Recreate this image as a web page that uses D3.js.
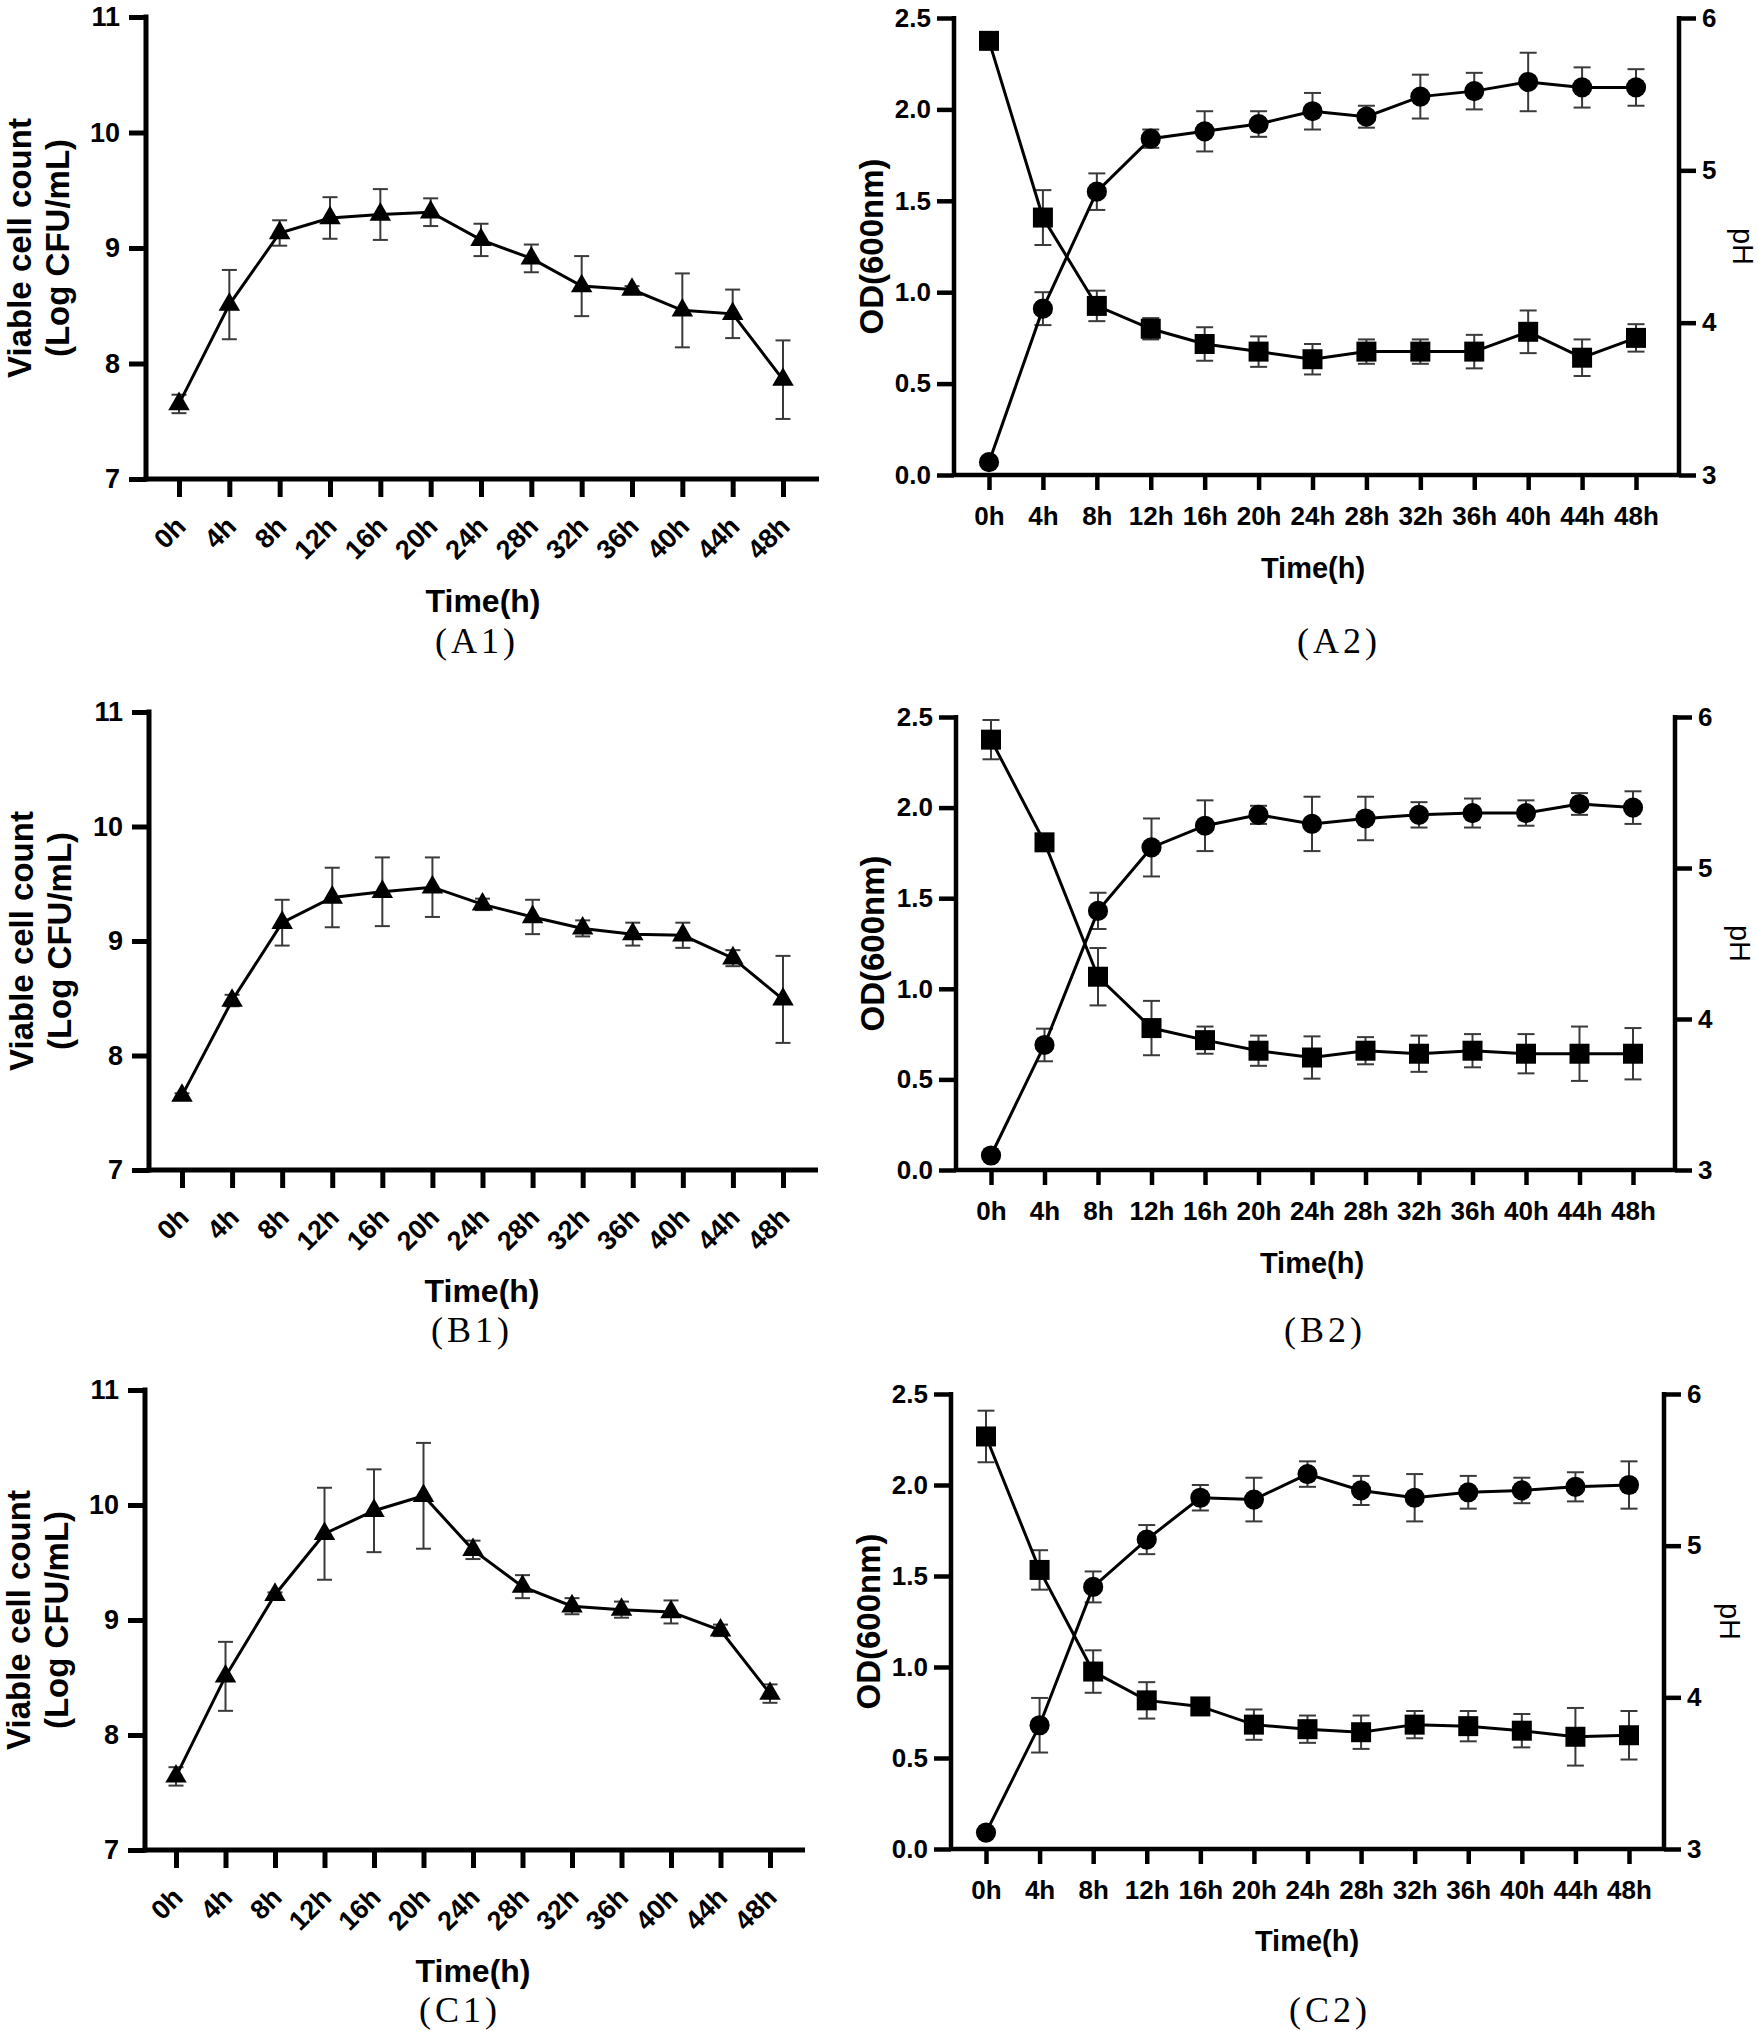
<!DOCTYPE html>
<html>
<head>
<meta charset="utf-8">
<script src="https://cdn.jsdelivr.net/npm/d3@7"></script>
<style>
  html, body { margin: 0; padding: 0; background: #fff; }
  svg { display: block; }
  text { font-family: "Liberation Sans", Arial, sans-serif; fill: #000; }
</style>
</head>
<body>
<svg id="chart" width="1758" height="2031"></svg>
<script>
// ---------------- DATA ----------------
const timeLabels = ["0h","4h","8h","12h","16h","20h","24h","28h","32h","36h","40h","44h","48h"];
const countTicks = [7, 8, 9, 10, 11];
const odTicks = [0, 0.5, 1.0, 1.5, 2.0, 2.5];
const phTicks = [3, 4, 5, 6];

// Panel A1 – viable cell count (Log CFU/mL)
const countA1    = [7.65, 8.51, 9.13, 9.26, 9.29, 9.31, 9.07, 8.91, 8.67, 8.64, 8.46, 8.43, 7.86];
const countA1Err = [0.08, 0.30, 0.11, 0.18, 0.22, 0.12, 0.14, 0.12, 0.26, 0.03, 0.32, 0.21, 0.34];
// Panel A2 – OD600 (circles) and pH (squares)
const odA2    = [0.07, 0.91, 1.55, 1.84, 1.88, 1.92, 1.99, 1.96, 2.07, 2.10, 2.15, 2.12, 2.12];
const odA2Err = [0.02, 0.09, 0.10, 0.05, 0.11, 0.07, 0.10, 0.06, 0.12, 0.10, 0.16, 0.11, 0.10];
const phA2    = [5.85, 4.69, 4.11, 3.96, 3.86, 3.81, 3.76, 3.81, 3.81, 3.81, 3.94, 3.77, 3.90];
const phA2Err = [0.03, 0.18, 0.10, 0.07, 0.11, 0.10, 0.10, 0.08, 0.08, 0.11, 0.14, 0.12, 0.09];

// Panel B1
const countB1    = [7.65, 8.48, 9.16, 9.38, 9.43, 9.47, 9.32, 9.21, 9.11, 9.06, 9.05, 8.85, 8.49];
const countB1Err = [0.02, 0.05, 0.20, 0.26, 0.30, 0.26, 0.05, 0.15, 0.07, 0.10, 0.11, 0.07, 0.38];
// Panel B2
const odB2    = [0.08, 0.69, 1.43, 1.78, 1.90, 1.96, 1.91, 1.94, 1.96, 1.97, 1.97, 2.02, 2.00];
const odB2Err = [0.02, 0.09, 0.10, 0.16, 0.14, 0.05, 0.15, 0.12, 0.07, 0.08, 0.07, 0.06, 0.09];
const phB2    = [5.85, 5.17, 4.28, 3.94, 3.86, 3.79, 3.745, 3.79, 3.77, 3.79, 3.77, 3.77, 3.77];
const phB2Err = [0.13, 0.05, 0.19, 0.18, 0.09, 0.10, 0.14, 0.09, 0.12, 0.11, 0.13, 0.18, 0.17];

// Panel C1
const countC1    = [7.64, 8.51, 9.22, 9.75, 9.95, 10.08, 9.61, 9.29, 9.12, 9.09, 9.07, 8.91, 8.36];
const countC1Err = [0.08, 0.30, 0.02, 0.40, 0.36, 0.46, 0.08, 0.10, 0.07, 0.07, 0.10, 0.05, 0.08];
// Panel C2
const odC2    = [0.09, 0.68, 1.44, 1.70, 1.93, 1.92, 2.06, 1.97, 1.93, 1.96, 1.97, 1.99, 2.00];
const odC2Err = [0.02, 0.15, 0.085, 0.08, 0.07, 0.12, 0.07, 0.08, 0.13, 0.09, 0.07, 0.08, 0.13];
const phC2    = [5.72, 4.84, 4.17, 3.98, 3.94, 3.82, 3.79, 3.77, 3.82, 3.81, 3.78, 3.74, 3.75];
const phC2Err = [0.17, 0.13, 0.14, 0.12, 0.02, 0.10, 0.09, 0.11, 0.09, 0.10, 0.11, 0.19, 0.16];

const panelNames = ["(A1)", "(A2)", "(B1)", "(B2)", "(C1)", "(C2)"];

// ---------------- LAYOUT ----------------
const svg = d3.select("#chart");
const ERR_COLOR = "#3a3a3a";
const SANS = "Liberation Sans, Arial, sans-serif";
const SERIF = "'Liberation Serif', 'DejaVu Serif', serif";

function errorBars(g, x, y, vals, errs, capW) {
  const eb = g.append("g").attr("stroke", ERR_COLOR).attr("stroke-width", 2).attr("fill", "none");
  timeLabels.forEach((t, i) => {
    const cx = x(t), y1 = y(vals[i] - errs[i]), y2 = y(vals[i] + errs[i]);
    eb.append("line").attr("x1", cx).attr("x2", cx).attr("y1", y1).attr("y2", y2);
    eb.append("line").attr("x1", cx - capW / 2).attr("x2", cx + capW / 2).attr("y1", y1).attr("y2", y1);
    eb.append("line").attr("x1", cx - capW / 2).attr("x2", cx + capW / 2).attr("y1", y2).attr("y2", y2);
  });
}

function seriesLine(g, x, y, vals) {
  g.append("path")
    .datum(vals)
    .attr("fill", "none").attr("stroke", "#000").attr("stroke-width", 3)
    .attr("d", d3.line().x((d, i) => x(timeLabels[i])).y(d => y(d)));
}

function markers(g, x, y, vals, type, size) {
  g.append("g").selectAll("path").data(vals).join("path")
    .attr("transform", (d, i) => `translate(${x(timeLabels[i])},${y(d)})`)
    .attr("d", d3.symbol().type(type).size(size))
    .attr("fill", "#000");
}

function panelName(g, x, y, name) {
  g.append("text").attr("x", x).attr("y", y).attr("dominant-baseline", "central")
    .attr("text-anchor", "middle").attr("font-size", 36).attr("letter-spacing", 4)
    .style("font-family", SERIF).attr("fill", "#111").text(name);
}

function drawCountPanel(c, vals, errs, name) {
  const g = svg.append("g");
  const x = d3.scalePoint().domain(timeLabels).range([c.x0, c.x1]);
  const y = d3.scaleLinear().domain([7, 11]).range([c.yBot, c.yTop]);

  // y axis
  const ya = g.append("g").attr("transform", `translate(${c.ax},0)`)
    .call(d3.axisLeft(y).tickValues(countTicks).tickSize(17).tickSizeOuter(0).tickPadding(9).tickFormat(d3.format("d")));
  ya.select(".domain").remove();
  ya.selectAll(".tick line").attr("stroke", "#000").attr("stroke-width", 5);
  ya.selectAll(".tick text").attr("font-size", 27).attr("font-weight", "bold").attr("font-family", SANS);

  // x axis ticks
  const xa = g.append("g").attr("transform", `translate(0,${c.yBot})`)
    .call(d3.axisBottom(x).tickSize(18).tickSizeOuter(0));
  xa.select(".domain").remove();
  xa.selectAll(".tick line").attr("stroke", "#000").attr("stroke-width", 5);
  xa.selectAll(".tick text")
    .attr("font-size", 27).attr("font-weight", "bold").attr("font-family", SANS)
    .attr("text-anchor", "end").attr("x", null).attr("y", null).attr("dy", null)
    .attr("transform", "translate(8,49) rotate(-45)");

  // axis lines
  g.append("line").attr("x1", c.ax).attr("x2", c.ax).attr("y1", c.yTop - 2.5).attr("y2", c.yBot + 2.5)
    .attr("stroke", "#000").attr("stroke-width", 5);
  g.append("line").attr("x1", c.ax - 2.5).attr("x2", c.xEnd).attr("y1", c.yBot).attr("y2", c.yBot)
    .attr("stroke", "#000").attr("stroke-width", 5);

  errorBars(g, x, y, vals, errs, 15);
  seriesLine(g, x, y, vals);
  markers(g, x, y, vals, d3.symbolTriangle, 200);

  // titles
  const yMid = (c.yTop + c.yBot) / 2;
  g.append("text").attr("transform", `translate(${c.t1x},${yMid}) rotate(-90)`)
    .attr("text-anchor", "middle").attr("font-size", 33).attr("font-weight", "bold").text("Viable cell count");
  g.append("text").attr("transform", `translate(${c.t2x},${yMid}) rotate(-90)`)
    .attr("text-anchor", "middle").attr("font-size", 33).attr("font-weight", "bold").text("(Log CFU/mL)");
  g.append("text").attr("x", c.timeX).attr("y", c.timeY).attr("dominant-baseline", "central")
    .attr("text-anchor", "middle").attr("font-size", 32).attr("font-weight", "bold").text("Time(h)");
  panelName(g, c.nameX, c.nameY, name);
}

function drawODPanel(c, od, odErr, ph, phErr, name) {
  const g = svg.append("g");
  const x = d3.scalePoint().domain(timeLabels).range([c.x0, c.x1]);
  const yOD = d3.scaleLinear().domain([0, 2.5]).range([c.yBot, c.yTop]);
  const yPH = d3.scaleLinear().domain([3, 6]).range([c.yBot, c.yTop]);

  const la = g.append("g").attr("transform", `translate(${c.axL},0)`)
    .call(d3.axisLeft(yOD).tickValues(odTicks).tickSize(17).tickSizeOuter(0).tickPadding(6).tickFormat(d3.format(".1f")));
  la.select(".domain").remove();
  la.selectAll(".tick line").attr("stroke", "#000").attr("stroke-width", 4.5);
  la.selectAll(".tick text").attr("font-size", 26).attr("font-weight", "bold").attr("font-family", SANS);

  const ra = g.append("g").attr("transform", `translate(${c.axR},0)`)
    .call(d3.axisRight(yPH).tickValues(phTicks).tickSize(17).tickSizeOuter(0).tickPadding(6).tickFormat(d3.format("d")));
  ra.select(".domain").remove();
  ra.selectAll(".tick line").attr("stroke", "#000").attr("stroke-width", 4.5);
  ra.selectAll(".tick text").attr("font-size", 26).attr("font-weight", "bold").attr("font-family", SANS);

  const xa = g.append("g").attr("transform", `translate(0,${c.yBot})`)
    .call(d3.axisBottom(x).tickSize(15).tickSizeOuter(0).tickPadding(0));
  xa.select(".domain").remove();
  xa.selectAll(".tick line").attr("stroke", "#000").attr("stroke-width", 4.5);
  xa.selectAll(".tick text").attr("font-size", 26).attr("font-weight", "bold").attr("font-family", SANS)
    .attr("y", 50).attr("dy", null);

  g.append("line").attr("x1", c.axL).attr("x2", c.axL).attr("y1", c.yTop - 2).attr("y2", c.yBot + 2)
    .attr("stroke", "#000").attr("stroke-width", 4.5);
  g.append("line").attr("x1", c.axR).attr("x2", c.axR).attr("y1", c.yTop - 2).attr("y2", c.yBot + 2)
    .attr("stroke", "#000").attr("stroke-width", 4.5);
  g.append("line").attr("x1", c.axL).attr("x2", c.axR).attr("y1", c.yBot).attr("y2", c.yBot)
    .attr("stroke", "#000").attr("stroke-width", 4.5);

  errorBars(g, x, yOD, od, odErr, 17);
  errorBars(g, x, yPH, ph, phErr, 17);
  seriesLine(g, x, yOD, od);
  seriesLine(g, x, yPH, ph);
  markers(g, x, yOD, od, d3.symbolCircle, 320);
  markers(g, x, yPH, ph, d3.symbolSquare, 400);

  const yMid = (c.yTop + c.yBot) / 2;
  g.append("text").attr("transform", `translate(${c.odX},${yMid}) rotate(-90)`)
    .attr("text-anchor", "middle").attr("font-size", 33).attr("font-weight", "bold").text("OD(600nm)");
  g.append("text").attr("transform", `translate(${c.phX},${yMid}) rotate(90)`)
    .attr("text-anchor", "middle").attr("font-size", 29).text("pH");
  g.append("text").attr("x", c.timeX).attr("y", c.timeY).attr("dominant-baseline", "central")
    .attr("text-anchor", "middle").attr("font-size", 29).attr("font-weight", "bold").text("Time(h)");
  panelName(g, c.nameX, c.nameY, name);
}

// left column panels
drawCountPanel({ax: 146, x0: 179, x1: 783, xEnd: 819, yTop: 17, yBot: 479,
  t1x: 31, t2x: 69, timeX: 483, timeY: 601, nameX: 477, nameY: 641}, countA1, countA1Err, panelNames[0]);
drawCountPanel({ax: 149, x0: 182, x1: 783, xEnd: 818, yTop: 712, yBot: 1170,
  t1x: 33, t2x: 71, timeX: 482, timeY: 1291, nameX: 472, nameY: 1330}, countB1, countB1Err, panelNames[2]);
drawCountPanel({ax: 145, x0: 176, x1: 770, xEnd: 805, yTop: 1390, yBot: 1850,
  t1x: 30, t2x: 68, timeX: 473, timeY: 1971, nameX: 460, nameY: 2010}, countC1, countC1Err, panelNames[4]);

// right column panels
drawODPanel({axL: 954, axR: 1679, x0: 989, x1: 1636, yTop: 18, yBot: 475,
  odX: 883, phX: 1733, timeX: 1313, timeY: 568, nameX: 1339, nameY: 641}, odA2, odA2Err, phA2, phA2Err, panelNames[1]);
drawODPanel({axL: 956, axR: 1675, x0: 991, x1: 1633, yTop: 717, yBot: 1170,
  odX: 884, phX: 1730, timeX: 1312, timeY: 1263, nameX: 1325, nameY: 1330}, odB2, odB2Err, phB2, phB2Err, panelNames[3]);
drawODPanel({axL: 951, axR: 1664, x0: 986, x1: 1629, yTop: 1394, yBot: 1849,
  odX: 880, phX: 1720, timeX: 1307, timeY: 1941, nameX: 1330, nameY: 2010}, odC2, odC2Err, phC2, phC2Err, panelNames[5]);
</script>
</body>
</html>
